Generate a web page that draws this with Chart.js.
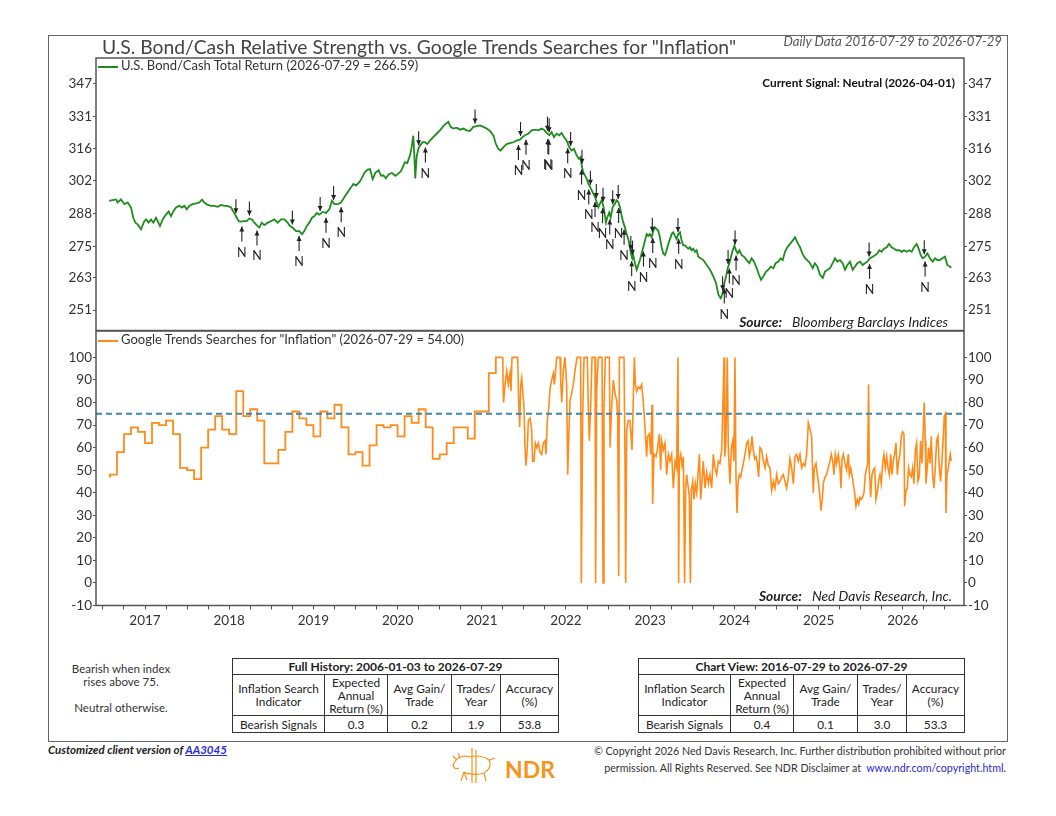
<!DOCTYPE html>
<html>
<head>
<meta charset="utf-8">
<script src="https://cdn.jsdelivr.net/npm/chart.js"></script>
<style>
html, body { margin: 0; padding: 0; background: #fff; }
body { width: 1056px; height: 816px; position: relative; overflow: hidden; font-family: Lato, "Open Sans", sans-serif; color: #333; }
canvas { position: absolute; left: 0; }
.t { position: absolute; white-space: nowrap; line-height: 1.2; }
#frame { position: absolute; left: 48px; top: 35px; width: 960px; height: 707px; border: 1.5px solid #666; box-sizing: border-box; }
.leg { position: absolute; left: 98px; width: 20px; height: 2px; }
.tb { position: absolute; border-collapse: collapse; table-layout: fixed; font-size: 11.8px; line-height: 13px; color: #222; }
.tb td, .tb th { border: 1.5px solid #333; text-align: center; padding: 0; }
.tb th { height: 15px; font-weight: bold; font-size: 12px; }
.tb tr.h td { height: 40px; }
.tb tr.r td { height: 16px; }
a { color: #2a2ad0; }
</style>
</head>
<body>
<div id="frame"></div>
<canvas id="bondChart" width="1056" height="300" style="top:40px"></canvas>
<canvas id="trendChart" width="1056" height="320" style="top:320px"></canvas>

<div class="t" style="left:102px;top:35px;font-size:19.3px;color:#444">U.S. Bond/Cash Relative Strength vs. Google Trends Searches for "Inflation"</div>
<div class="t" style="right:54px;top:34.3px;font-size:13.2px;font-style:italic;color:#555">Daily Data 2016-07-29 to 2026-07-29</div>

<div class="leg" style="top:66px;background:#1f8c1f"></div>
<div class="t" style="left:121px;top:58.4px;font-size:13px">U.S. Bond/Cash Total Return (2026-07-29 = 266.59)</div>
<div class="t" style="right:101px;top:75.6px;font-size:11.8px;font-weight:bold;color:#111">Current Signal: Neutral (2026-04-01)</div>
<div class="t" style="right:108px;top:314.2px;font-size:13.8px;font-style:italic;color:#222"><b>Source:</b><span style="margin-left:10px">Bloomberg Barclays Indices</span></div>

<div class="leg" style="top:340px;background:#ff8c1a"></div>
<div class="t" style="left:121px;top:332.4px;font-size:13px">Google Trends Searches for "Inflation" (2026-07-29 = 54.00)</div>
<div class="t" style="right:104px;top:588.2px;font-size:13.8px;font-style:italic;color:#222"><b>Source:</b><span style="margin-left:10px">Ned Davis Research, Inc.</span></div>

<div class="t" style="left:60px;width:122px;text-align:center;top:661.5px;font-size:11.5px;line-height:13.3px">Bearish when index<br>rises above 75.</div>
<div class="t" style="left:60px;width:122px;text-align:center;top:701px;font-size:11.5px">Neutral otherwise.</div>

<table class="tb" id="fullTable" style="left:232px;top:658px"></table>
<table class="tb" id="viewTable" style="left:638px;top:658px"></table>

<div class="t" style="left:48px;top:742.6px;font-size:11.5px;font-style:italic;font-weight:bold;color:#222">Customized client version of <a href="#">AA3045</a></div>
<svg style="position:absolute;left:451px;top:747px" width="46" height="37" viewBox="0 0 46 37" fill="none" stroke="#f7941d" stroke-width="1.2">
  <path d="M3 16 C6 10 13 8 19 10 C25 8 33 9 38 13 L44 11 M38 13 C41 19 37 24 33 26 L35 34 M33 26 C27 28 18 28 13 25 L10 34 M13 25 L16 33 M3 16 C1 20 4 23 8 21"/>
  <path d="M21 1 L21 36 M25 3 L25 36 M6 13 L2 9 M9 11 L7 6"/>
</svg>
<div class="t" style="left:505px;top:756px;font-size:23px;font-weight:bold;color:#f7941d">NDR</div>
<div class="t" style="right:50px;top:742.2px;font-size:12px;text-align:right;line-height:17px;color:#333;transform:scaleX(0.89);transform-origin:right top">© Copyright 2026 Ned Davis Research, Inc. Further distribution prohibited without prior<br>permission. All Rights Reserved. See NDR Disclaimer at &nbsp;<a href="#" style="text-decoration:none">www.ndr.com/copyright.html</a>.</div>

<script>
// U.S. Bond/Cash total return (decimal years)
const bondYears = [
  2016.575, 2016.616, 2016.656, 2016.675, 2016.715, 2016.755, 2016.794, 2016.834, 2016.861, 2016.885,
  2016.913, 2016.952, 2016.992, 2017.012, 2017.043, 2017.071, 2017.099, 2017.131, 2017.150, 2017.178,
  2017.210, 2017.249, 2017.281, 2017.309, 2017.336, 2017.368, 2017.408, 2017.439, 2017.467, 2017.495,
  2017.526, 2017.566, 2017.606, 2017.645, 2017.677, 2017.705, 2017.744, 2017.784, 2017.823, 2017.863,
  2017.903, 2017.942, 2017.982, 2018.021, 2018.049, 2018.081, 2018.112, 2018.140, 2018.180, 2018.207,
  2018.239, 2018.271, 2018.298, 2018.326, 2018.358, 2018.386, 2018.417, 2018.457, 2018.496, 2018.536,
  2018.576, 2018.615, 2018.655, 2018.694, 2018.722, 2018.754, 2018.793, 2018.833, 2018.865, 2018.892,
  2018.920, 2018.952, 2018.983, 2019.011, 2019.039, 2019.071, 2019.110, 2019.150, 2019.189, 2019.221,
  2019.249, 2019.288, 2019.328, 2019.367, 2019.407, 2019.447, 2019.474, 2019.506, 2019.546, 2019.577,
  2019.605, 2019.645, 2019.672, 2019.704, 2019.736, 2019.775, 2019.803, 2019.830, 2019.862, 2019.894,
  2019.933, 2019.973, 2020.001, 2020.040, 2020.087, 2020.115, 2020.147, 2020.167, 2020.186, 2020.198,
  2020.210, 2020.226, 2020.246, 2020.266, 2020.297, 2020.325, 2020.353, 2020.384, 2020.424, 2020.463,
  2020.503, 2020.543, 2020.574, 2020.602, 2020.630, 2020.661, 2020.701, 2020.741, 2020.780, 2020.820,
  2020.859, 2020.899, 2020.939, 2020.978, 2021.018, 2021.057, 2021.097, 2021.136, 2021.168, 2021.196,
  2021.224, 2021.255, 2021.295, 2021.334, 2021.374, 2021.414, 2021.453, 2021.485, 2021.513, 2021.552,
  2021.592, 2021.631, 2021.671, 2021.711, 2021.738, 2021.770, 2021.802, 2021.829, 2021.857, 2021.889,
  2021.920, 2021.948, 2021.976, 2022.007, 2022.039, 2022.067, 2022.095, 2022.126, 2022.154, 2022.174,
  2022.186, 2022.205, 2022.225, 2022.245, 2022.265, 2022.285, 2022.304, 2022.324, 2022.344, 2022.364,
  2022.384, 2022.403, 2022.423, 2022.443, 2022.463, 2022.475, 2022.490, 2022.514, 2022.530, 2022.554,
  2022.581, 2022.601, 2022.621, 2022.641, 2022.661, 2022.680, 2022.700, 2022.720, 2022.740, 2022.760,
  2022.771, 2022.787, 2022.799, 2022.819, 2022.839, 2022.859, 2022.878, 2022.898, 2022.918, 2022.938,
  2022.958, 2022.977, 2022.997, 2023.017, 2023.037, 2023.057, 2023.076, 2023.096, 2023.116, 2023.136,
  2023.156, 2023.175, 2023.195, 2023.215, 2023.235, 2023.255, 2023.274, 2023.294, 2023.314, 2023.334,
  2023.354, 2023.373, 2023.393, 2023.413, 2023.433, 2023.452, 2023.472, 2023.492, 2023.512, 2023.532,
  2023.551, 2023.571, 2023.631, 2023.671, 2023.711, 2023.750, 2023.782, 2023.810, 2023.837, 2023.861,
  2023.881, 2023.901, 2023.920, 2023.940, 2023.960, 2023.980, 2024.000, 2024.019, 2024.039, 2024.059,
  2024.087, 2024.114, 2024.146, 2024.178, 2024.205, 2024.233, 2024.265, 2024.292, 2024.316, 2024.344,
  2024.376, 2024.403, 2024.431, 2024.463, 2024.490, 2024.522, 2024.550, 2024.574, 2024.601, 2024.629,
  2024.661, 2024.692, 2024.720, 2024.748, 2024.779, 2024.807, 2024.839, 2024.866, 2024.898, 2024.930,
  2024.957, 2024.985, 2025.017, 2025.049, 2025.076, 2025.108, 2025.136, 2025.167, 2025.195, 2025.223,
  2025.255, 2025.286, 2025.314, 2025.342, 2025.373, 2025.405, 2025.433, 2025.460, 2025.492, 2025.524,
  2025.551, 2025.579, 2025.611, 2025.642, 2025.670, 2025.698, 2025.722, 2025.749, 2025.777, 2025.809,
  2025.836, 2025.868, 2025.896, 2025.927, 2025.959, 2025.987, 2026.015, 2026.046, 2026.078, 2026.106,
  2026.133, 2026.165, 2026.189, 2026.213, 2026.236, 2026.264, 2026.292, 2026.323, 2026.355, 2026.383,
  2026.410, 2026.442, 2026.470, 2026.501, 2026.529, 2026.561, 2026.575
];
const bondValues = [
  293.4, 293.7, 294.0, 292.7, 294.0, 292.0, 292.7, 290.6, 286.4, 284.4,
  283.7, 281.7, 285.0, 285.7, 284.4, 285.7, 284.4, 286.4, 285.0, 283.0,
  285.7, 287.7, 289.0, 287.0, 289.0, 290.6, 291.3, 290.6, 291.3, 289.9,
  291.3, 292.0, 292.3, 292.7, 293.9, 292.7, 291.7, 291.3, 291.3, 290.9,
  291.7, 291.3, 291.3, 290.6, 289.0, 287.0, 285.0, 284.8, 285.0, 285.0,
  286.1, 285.7, 284.4, 283.4, 282.4, 284.4, 283.4, 284.4, 285.0, 285.7,
  284.4, 285.7, 285.7, 284.4, 283.0, 282.4, 281.0, 281.0, 279.7, 281.0,
  283.0, 284.4, 286.4, 287.0, 288.4, 287.7, 288.8, 288.4, 289.9, 293.4,
  292.0, 292.0, 292.7, 294.9, 297.0, 299.1, 300.6, 299.9, 301.3, 303.2,
  305.4, 306.8, 307.0, 302.7, 305.4, 306.5, 304.1, 304.3, 303.0, 304.8,
  305.3, 304.1, 304.8, 306.1, 310.1, 309.7, 313.1, 316.8, 322.0, 313.8,
  302.9, 312.4, 316.0, 317.5, 319.0, 319.0, 318.2, 319.8, 321.4, 322.9,
  324.5, 326.4, 327.6, 328.4, 326.1, 325.3, 325.7, 324.8, 325.3, 324.5,
  324.2, 326.1, 326.4, 326.8, 326.1, 325.3, 324.2, 322.2, 318.2, 316.0,
  315.3, 316.7, 318.2, 318.6, 319.0, 319.8, 320.2, 321.4, 322.2, 322.9,
  324.5, 324.8, 324.5, 325.3, 324.8, 323.3, 322.2, 323.7, 321.4, 322.9,
  322.2, 323.3, 321.4, 319.8, 316.7, 315.3, 316.0, 313.1, 311.6, 312.4,
  308.7, 305.7, 304.3, 302.9, 300.7, 299.3, 297.9, 296.5, 295.1, 292.9,
  290.7, 292.2, 293.6, 291.5, 287.2, 284.5, 286.5, 288.5, 286.5, 290.7,
  292.2, 293.6, 292.9, 290.7, 287.2, 284.5, 282.5, 279.8, 277.8, 274.6,
  272.1, 270.2, 271.5, 268.4, 265.9, 267.8, 269.6, 272.1, 274.6, 277.2,
  279.8, 279.1, 279.8, 278.5, 281.1, 282.5, 281.8, 281.1, 278.5, 274.6,
  272.1, 271.5, 273.4, 275.9, 277.8, 279.8, 280.5, 279.1, 277.8, 279.8,
  280.5, 277.2, 275.3, 275.3, 274.6, 274.0, 274.6, 273.4, 274.0, 272.8,
  273.4, 270.9, 269.6, 267.7, 265.9, 263.4, 260.9, 256.6, 255.3, 257.2,
  260.9, 263.4, 266.5, 268.3, 270.9, 273.4, 275.2, 273.4, 272.2, 273.4,
  271.5, 270.9, 269.6, 268.4, 270.3, 269.0, 266.5, 264.0, 262.1, 263.4,
  265.2, 265.9, 267.1, 266.5, 268.4, 269.0, 270.3, 269.6, 272.8, 274.6,
  275.9, 277.2, 278.5, 276.5, 274.6, 272.2, 270.3, 269.6, 268.4, 266.5,
  268.4, 267.1, 264.0, 262.8, 265.2, 265.9, 266.5, 268.4, 270.3, 269.0,
  269.6, 268.4, 265.9, 267.7, 269.0, 265.9, 267.1, 268.4, 269.0, 267.7,
  268.4, 269.0, 270.3, 270.9, 271.5, 272.2, 273.4, 272.8, 274.0, 274.6,
  275.9, 274.6, 274.0, 273.4, 273.4, 272.8, 273.4, 272.8, 273.4, 272.8,
  274.6, 275.9, 274.0, 271.5, 270.3, 270.9, 272.2, 270.3, 269.0, 270.3,
  269.6, 269.6, 270.3, 270.9, 267.7, 267.1, 266.59
];

// Google Trends "Inflation": monthly values until spring 2021
const trendMonths = [
  '2016-07-29', '2016-08', '2016-09', '2016-10', '2016-11', '2016-12',
  '2017-01', '2017-02', '2017-03', '2017-04', '2017-05', '2017-06', '2017-07', '2017-08', '2017-09', '2017-10', '2017-11', '2017-12',
  '2018-01', '2018-02', '2018-03', '2018-04', '2018-05', '2018-06', '2018-07', '2018-08', '2018-09', '2018-10', '2018-11', '2018-12',
  '2019-01', '2019-02', '2019-03', '2019-04', '2019-05', '2019-06', '2019-07', '2019-08', '2019-09', '2019-10', '2019-11', '2019-12',
  '2020-01', '2020-02', '2020-03', '2020-04', '2020-05', '2020-06', '2020-07', '2020-08', '2020-09', '2020-10', '2020-11', '2020-12',
  '2021-01', '2021-02', '2021-03', '2021-04'
];
const trendMonthly = [
  47, 48, 58, 66, 69, 67,
  62, 71, 70, 72, 66, 51, 50, 46, 60, 68, 74, 68,
  66, 85, 74, 77, 72, 53, 53, 59, 67, 76, 73, 70,
  65, 76, 73, 79, 69, 57, 58, 52, 61, 70, 69, 70,
  65, 74, 71, 77, 69, 55, 57, 62, 69, 69, 64, 76,
  76, 93, 100, 100
];

// Google Trends "Inflation": daily values after that (decimal years)
const trendDays = [
  2021.250, 2021.253, 2021.258, 2021.276, 2021.296, 2021.315, 2021.335, 2021.347, 2021.359, 2021.426,
  2021.438, 2021.450, 2021.462, 2021.474, 2021.486, 2021.501, 2021.513, 2021.525, 2021.541, 2021.553,
  2021.573, 2021.592, 2021.604, 2021.620, 2021.636, 2021.652, 2021.672, 2021.691, 2021.711, 2021.731,
  2021.751, 2021.763, 2021.778, 2021.794, 2021.810, 2021.830, 2021.850, 2021.862, 2021.877, 2021.889,
  2021.929, 2021.937, 2021.949, 2021.968, 2021.988, 2022.008, 2022.020, 2022.032, 2022.048, 2022.067,
  2022.087, 2022.107, 2022.131, 2022.174, 2022.182, 2022.198, 2022.214, 2022.253, 2022.265, 2022.277,
  2022.293, 2022.309, 2022.345, 2022.352, 2022.364, 2022.384, 2022.428, 2022.440, 2022.451, 2022.467,
  2022.515, 2022.523, 2022.542, 2022.562, 2022.582, 2022.602, 2022.614, 2022.626, 2022.634, 2022.689,
  2022.701, 2022.709, 2022.721, 2022.740, 2022.760, 2022.784, 2022.800, 2022.812, 2022.824, 2022.839,
  2022.859, 2022.879, 2022.899, 2022.919, 2022.938, 2022.958, 2022.970, 2022.990, 2023.006, 2023.022,
  2023.029, 2023.045, 2023.069, 2023.085, 2023.109, 2023.124, 2023.136, 2023.156, 2023.176, 2023.196,
  2023.216, 2023.235, 2023.255, 2023.275, 2023.295, 2023.314, 2023.330, 2023.338, 2023.346, 2023.362,
  2023.378, 2023.394, 2023.409, 2023.421, 2023.433, 2023.453, 2023.465, 2023.477, 2023.489, 2023.505,
  2023.520, 2023.536, 2023.552, 2023.568, 2023.584, 2023.600, 2023.615, 2023.631, 2023.651, 2023.671,
  2023.691, 2023.710, 2023.730, 2023.750, 2023.770, 2023.790, 2023.809, 2023.829, 2023.849, 2023.861,
  2023.877, 2023.885, 2023.900, 2023.916, 2023.928, 2023.948, 2023.964, 2023.980, 2023.995, 2024.007,
  2024.019, 2024.031, 2024.043, 2024.059, 2024.075, 2024.090, 2024.106, 2024.126, 2024.146, 2024.162,
  2024.178, 2024.193, 2024.209, 2024.225, 2024.241, 2024.257, 2024.272, 2024.288, 2024.304, 2024.324,
  2024.344, 2024.364, 2024.383, 2024.403, 2024.423, 2024.443, 2024.463, 2024.482, 2024.502, 2024.522,
  2024.542, 2024.561, 2024.581, 2024.601, 2024.621, 2024.641, 2024.660, 2024.680, 2024.700, 2024.719,
  2024.739, 2024.759, 2024.779, 2024.799, 2024.818, 2024.838, 2024.858, 2024.878, 2024.898, 2024.917,
  2024.937, 2024.949, 2024.969, 2024.985, 2025.000, 2025.016, 2025.028, 2025.044, 2025.056, 2025.076,
  2025.095, 2025.115, 2025.135, 2025.151, 2025.167, 2025.183, 2025.198, 2025.214, 2025.234, 2025.254,
  2025.266, 2025.278, 2025.293, 2025.313, 2025.333, 2025.353, 2025.365, 2025.381, 2025.396, 2025.412,
  2025.428, 2025.444, 2025.460, 2025.476, 2025.491, 2025.507, 2025.523, 2025.539, 2025.555, 2025.571,
  2025.582, 2025.594, 2025.602, 2025.618, 2025.634, 2025.650, 2025.666, 2025.681, 2025.697, 2025.713,
  2025.729, 2025.745, 2025.761, 2025.776, 2025.792, 2025.808, 2025.824, 2025.840, 2025.856, 2025.871,
  2025.887, 2025.903, 2025.919, 2025.935, 2025.951, 2025.966, 2025.982, 2025.998, 2026.014, 2026.022,
  2026.038, 2026.054, 2026.069, 2026.085, 2026.101, 2026.117, 2026.133, 2026.149, 2026.164, 2026.180,
  2026.196, 2026.212, 2026.228, 2026.244, 2026.255, 2026.267, 2026.275, 2026.291, 2026.307, 2026.323,
  2026.339, 2026.354, 2026.370, 2026.386, 2026.402, 2026.418, 2026.434, 2026.449, 2026.465, 2026.481,
  2026.493, 2026.505, 2026.513, 2026.525, 2026.541, 2026.552, 2026.564, 2026.575
];
const trendDaily = [
  100, 87, 80, 88, 94, 88, 93, 85, 100, 100,
  81, 69, 88, 91, 85, 78, 60, 52, 60, 72,
  73, 68, 54, 54, 62, 60, 62, 58, 57, 62,
  63, 57, 72, 77, 86, 90, 93, 88, 94, 100,
  100, 90, 80, 94, 100, 88, 48, 63, 81, 84,
  88, 94, 100, 100, 0, 74, 100, 100, 78, 63,
  78, 100, 100, 0, 85, 100, 100, 0, 78, 100,
  100, 60, 78, 90, 84, 81, 74, 3, 100, 100,
  53, 0, 68, 72, 72, 59, 82, 100, 88, 85,
  87, 86, 88, 80, 69, 56, 65, 66, 57, 79,
  35, 57, 56, 59, 66, 50, 63, 59, 62, 48,
  57, 54, 57, 42, 54, 51, 100, 0, 54, 57,
  52, 56, 0, 42, 48, 42, 38, 0, 41, 45,
  37, 44, 40, 48, 57, 37, 45, 54, 42, 49,
  44, 48, 42, 57, 51, 48, 54, 53, 59, 75,
  100, 56, 63, 100, 59, 44, 60, 63, 54, 100,
  48, 31, 44, 48, 47, 50, 53, 57, 62, 63,
  56, 59, 65, 59, 55, 56, 53, 47, 60, 59,
  54, 51, 56, 52, 51, 41, 45, 42, 48, 44,
  45, 47, 48, 45, 42, 47, 55, 51, 44, 56,
  57, 54, 57, 51, 53, 52, 57, 71, 68, 65,
  40, 51, 53, 48, 44, 38, 32, 37, 44, 47,
  48, 51, 54, 57, 54, 48, 57, 53, 57, 51,
  42, 55, 57, 53, 50, 57, 48, 51, 48, 44,
  40, 34, 37, 35, 38, 37, 38, 40, 48, 51,
  53, 88, 51, 38, 48, 50, 51, 37, 40, 45,
  48, 44, 53, 57, 51, 56, 51, 48, 57, 48,
  54, 57, 62, 48, 54, 57, 65, 67, 66, 34,
  41, 42, 51, 48, 47, 51, 44, 59, 62, 45,
  47, 63, 53, 69, 80, 63, 44, 51, 60, 53,
  65, 48, 42, 51, 63, 65, 51, 45, 54, 65,
  74, 75, 31, 48, 51, 54, 57, 54
];

// signal dates (decimal years): bearish = down arrow, neutral = up arrow + N
const bearishSignals = [2018.08, 2018.24, 2018.75, 2019.08, 2019.24, 2020.25, 2020.92, 2021.46, 2021.78, 2021.80,
  2022.055, 2022.19, 2022.29, 2022.36, 2022.44, 2022.555, 2022.62, 2022.77, 2022.79, 2023.025,
  2023.33, 2023.86, 2023.925, 2024.008, 2025.60, 2026.255];
const neutralSignals = [2018.15, 2018.33, 2018.83, 2019.15, 2019.33, 2020.33, 2021.435, 2021.525, 2021.785, 2021.795,
  2022.02, 2022.185, 2022.27, 2022.345, 2022.435, 2022.52, 2022.625, 2022.69, 2022.78, 2022.92,
  2023.03, 2023.338, 2023.88, 2023.94, 2024.02, 2025.605, 2026.265];

const bondTicks = [251, 263, 275, 288, 302, 316, 331, 347];
const trendTicks = [-10, 0, 10, 20, 30, 40, 50, 60, 70, 80, 90, 100];
const threshold = 75;

// table contents
const tableCols = ['Inflation Search<br>Indicator', 'Expected<br>Annual<br>Return (%)', 'Avg Gain/<br>Trade', 'Trades/<br>Year', 'Accuracy<br>(%)'];
const fullHistoryStats = ['Bearish Signals', '0.3', '0.2', '1.9', '53.8'];
const chartViewStats = ['Bearish Signals', '0.4', '0.1', '3.0', '53.3'];

const green = '#1f8c1f';
const orange = '#ff8c1a';
const xMin = 2016.418, xMax = 2026.727;

function toYear(s) {
    const p = s.split('-').map(Number);
    return p[0] + (p[1] - 1) / 12 + (p.length > 2 ? (p[2] - 1) / 365.25 : 0);
}

const quarterTicks = [];
for (let q = 0; q <= 40; q++) quarterTicks.push(2016.5 + q * 0.25);

function yAxis(position, type, min, max, ticks) {
    return {
        type: type,
        position: position,
        min: min,
        max: max,
        afterBuildTicks: ax => { ax.ticks = ticks.map(v => ({ value: v })); },
        afterFit: ax => { ax.width = 46; },
        grid: { drawOnChartArea: false, drawTicks: true, tickLength: 3, tickColor: '#555', tickWidth: 1 },
        border: { display: false },
        ticks: {
            autoSkip: false,
            padding: 1,
            color: '#333',
            font: { family: 'Lato', size: 13.5 },
            callback: v => String(v)
        }
    };
}

const boxPlugin = {
    id: 'box',
    afterDraw(chart) {
        const { ctx, chartArea: a } = chart;
        ctx.save();
        ctx.strokeStyle = '#555';
        ctx.lineWidth = 1.5;
        ctx.strokeRect(a.left, a.top, a.right - a.left, a.bottom - a.top);
        ctx.restore();
    }
};

function bondAt(yr) {
    for (let i = 1; i < bondYears.length; i++) {
        if (bondYears[i] >= yr) {
            const t = (yr - bondYears[i - 1]) / (bondYears[i] - bondYears[i - 1]);
            return bondValues[i - 1] + t * (bondValues[i] - bondValues[i - 1]);
        }
    }
    return bondValues[bondValues.length - 1];
}

function arrow(ctx, x, y1, y2) {
    ctx.beginPath();
    ctx.moveTo(x, y1);
    ctx.lineTo(x, y2);
    ctx.stroke();
    const d = y2 > y1 ? -1 : 1;
    ctx.beginPath();
    ctx.moveTo(x, y2);
    ctx.lineTo(x - 2.5, y2 + d * 5);
    ctx.lineTo(x + 2.5, y2 + d * 5);
    ctx.closePath();
    ctx.fill();
}

const signalPlugin = {
    id: 'signals',
    afterDatasetsDraw(chart) {
        const ctx = chart.ctx;
        const xs = chart.scales.x, ys = chart.scales.y;
        ctx.save();
        ctx.strokeStyle = '#222';
        ctx.fillStyle = '#222';
        ctx.lineWidth = 1.1;
        bearishSignals.forEach(yr => {
            const px = xs.getPixelForValue(yr), py = ys.getPixelForValue(bondAt(yr));
            arrow(ctx, px, py - 17, py - 3);
        });
        ctx.font = '12.5px Lato';
        ctx.textAlign = 'center';
        ctx.textBaseline = 'middle';
        neutralSignals.forEach(yr => {
            const px = xs.getPixelForValue(yr), py = ys.getPixelForValue(bondAt(yr));
            arrow(ctx, px, py + 20, py + 5);
            ctx.fillText('N', px, py + 31);
        });
        ctx.restore();
    }
};

new Chart(document.getElementById('bondChart'), {
    type: 'line',
    data: {
        datasets: [{
            data: bondYears.map((x, i) => ({ x: x, y: bondValues[i] })),
            borderColor: green,
            borderWidth: 1.8,
            pointRadius: 0,
            tension: 0
        }]
    },
    options: {
        responsive: false,
        animation: false,
        events: [],
        layout: { padding: { left: 50, right: 46, top: 18, bottom: 9.5 } },
        scales: {
            x: { type: 'linear', min: xMin, max: xMax, display: false },
            y: yAxis('left', 'logarithmic', 243.8, 359.8, bondTicks),
            y2: yAxis('right', 'logarithmic', 243.8, 359.8, bondTicks)
        },
        plugins: { legend: { display: false }, tooltip: { enabled: false } }
    },
    plugins: [boxPlugin, signalPlugin]
});

new Chart(document.getElementById('trendChart'), {
    type: 'line',
    data: {
        datasets: [
            {
                data: [{ x: xMin, y: threshold }, { x: xMax, y: threshold }],
                borderColor: '#3a87b2',
                borderWidth: 2,
                borderDash: [6, 4],
                pointRadius: 0
            },
            {
                data: trendMonths.map((m, i) => ({ x: toYear(m), y: trendMonthly[i] })),
                borderColor: orange,
                borderWidth: 1.8,
                pointRadius: 0,
                stepped: true
            },
            {
                data: trendDays.map((x, i) => ({ x: x, y: trendDaily[i] })),
                borderColor: orange,
                borderWidth: 1.6,
                pointRadius: 0,
                tension: 0
            }
        ]
    },
    options: {
        responsive: false,
        animation: false,
        events: [],
        layout: { padding: { left: 50, right: 46, top: 11, bottom: 0 } },
        scales: {
            x: {
                type: 'linear',
                min: xMin,
                max: xMax,
                afterBuildTicks: ax => { ax.ticks = quarterTicks.map(v => ({ value: v })); },
                afterFit: ax => { ax.height = 34.5; },
                grid: { drawOnChartArea: false, drawTicks: true, tickLength: 4, tickColor: '#555' },
                border: { display: false },
                ticks: {
                    autoSkip: false,
                    maxRotation: 0,
                    padding: 3,
                    color: '#333',
                    font: { family: 'Lato', size: 13.5 },
                    callback: v => Number.isInteger(v) ? String(v) : ''
                }
            },
            y: yAxis('left', 'linear', -10, 111.7, trendTicks),
            y2: yAxis('right', 'linear', -10, 111.7, trendTicks)
        },
        plugins: { legend: { display: false }, tooltip: { enabled: false } }
    },
    plugins: [boxPlugin]
});

function fillTable(id, title, stats) {
    const colW = [92, 63, 64, 49, 58];
    let html = '<colgroup>' + colW.map(w => '<col style="width:' + w + 'px">').join('') + '</colgroup>';
    html += '<tr><th colspan="5">' + title + '</th></tr>';
    html += '<tr class="h">' + tableCols.map(c => '<td>' + c + '</td>').join('') + '</tr>';
    html += '<tr class="r">' + stats.map(s => '<td>' + s + '</td>').join('') + '</tr>';
    document.getElementById(id).innerHTML = html;
}
fillTable('fullTable', 'Full History: 2006-01-03 to 2026-07-29', fullHistoryStats);
fillTable('viewTable', 'Chart View: 2016-07-29 to 2026-07-29', chartViewStats);
</script>
</body>
</html>
